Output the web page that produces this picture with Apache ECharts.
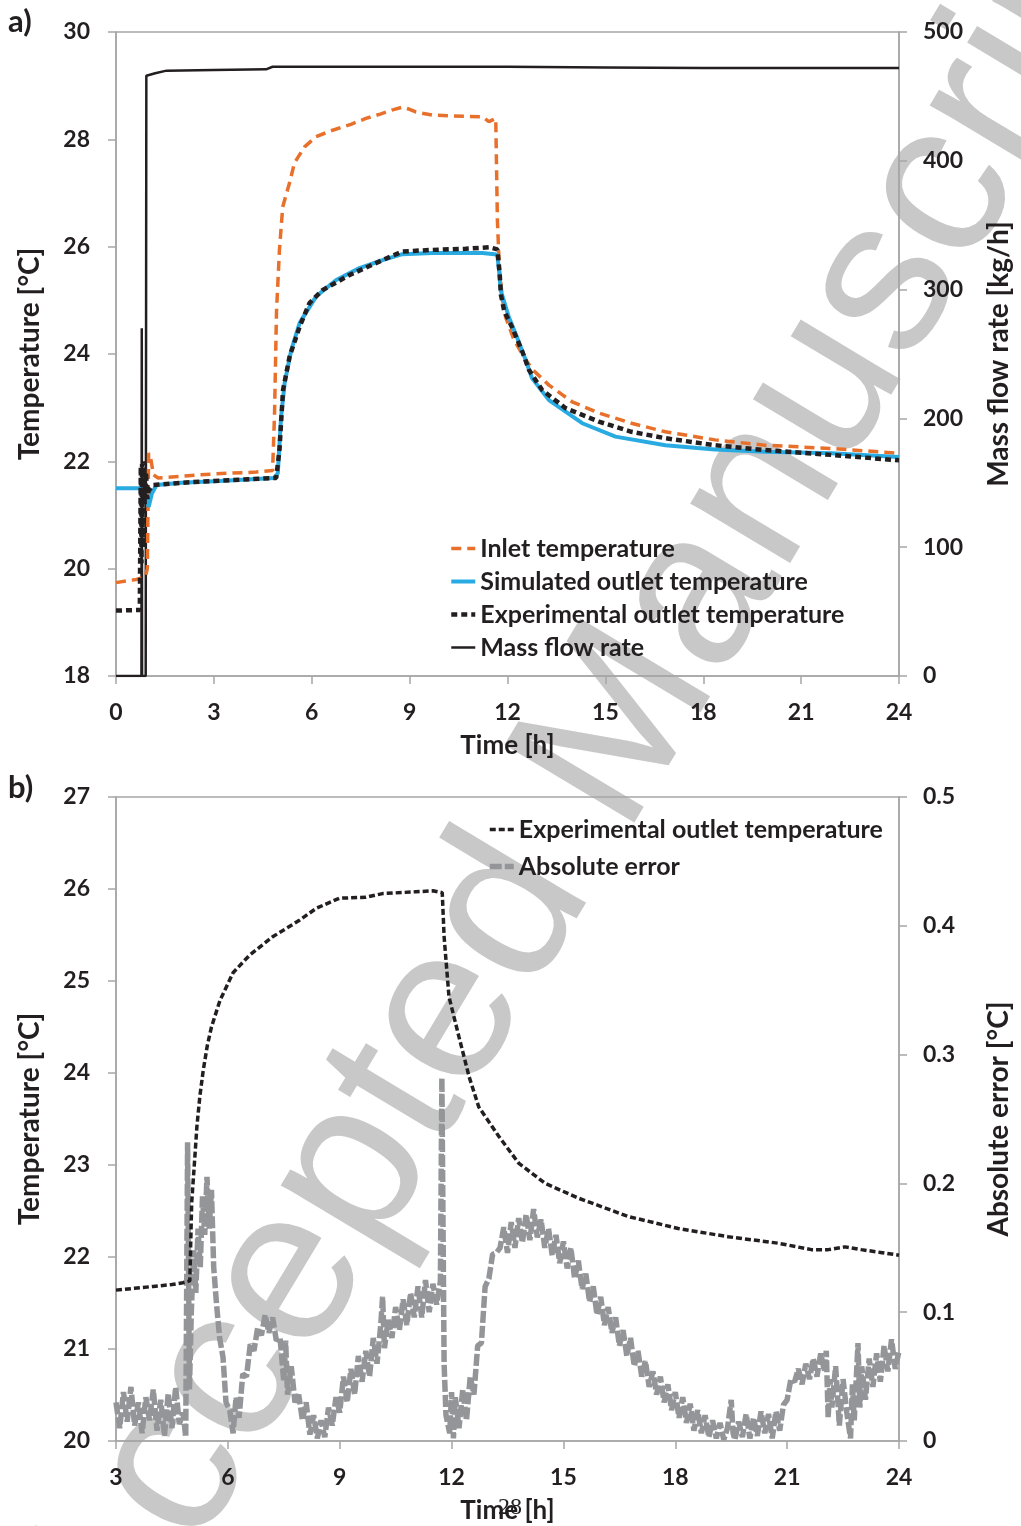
<!DOCTYPE html>
<html>
<head>
<meta charset="utf-8">
<script src="https://cdn.jsdelivr.net/npm/echarts@6/dist/echarts.min.js"></script>
<style>
html,body{margin:0;padding:0;background:#fff;}
#main{width:1021px;height:1526px;}
</style>
</head>
<body>
<div id="main"></div>
<script>
// ---------------- a) data ----------------
// inlet temperature [°C]
var inletT = [0,0.63,0.9,0.96,1.0,1.05,1.15,1.29,2.0,2.57,3.5,4.3,4.8,4.86,4.92,5.01,5.11,5.32,5.47,5.78,6.13,6.64,7.2,7.66,8.1,8.48,8.78,9.0,9.19,9.7,10.2,10.72,11.23,11.43,11.64,11.69,11.75,11.85,11.94,12.2,12.5,12.75,13.27,13.98,14.8,15.8,16.84,18.36,19.89,21.93,24];
var inletV = [19.74,19.80,19.85,20.0,22.15,22.1,21.75,21.69,21.72,21.75,21.78,21.80,21.83,22.9,24.8,25.94,26.74,27.19,27.56,27.86,28.05,28.17,28.28,28.39,28.47,28.55,28.60,28.56,28.51,28.45,28.44,28.43,28.42,28.33,28.39,26.5,25.6,25.0,24.69,24.26,23.95,23.72,23.42,23.11,22.90,22.71,22.55,22.40,22.30,22.24,22.15];

// simulated outlet temperature [°C]
var simT = [0,0.9,0.95,1.0,1.1,1.24,2.0,3.0,4.0,4.85,4.96,5.06,5.17,5.37,5.63,6.13,6.75,7.46,8.17,8.78,9.7,10.5,11.23,11.6,11.69,11.75,11.79,12.04,12.3,12.55,12.75,13.27,14.29,15.31,16.84,18.36,19.89,21.93,24];
var simV = [21.50,21.50,21.3,21.15,21.4,21.56,21.60,21.63,21.66,21.69,21.78,22.83,23.46,24.07,24.58,25.07,25.38,25.60,25.75,25.86,25.88,25.88,25.88,25.86,25.84,25.5,25.19,24.69,24.3,23.9,23.55,23.14,22.71,22.46,22.30,22.22,22.18,22.15,22.08];

// experimental outlet temperature [°C]
var expT = [0,0.73,0.76,0.78,0.8,0.82,0.85,0.88,0.92,0.96,1.0,1.14,2.0,2.57,3.5,4.91,5.01,5.12,5.32,5.63,5.93,6.33,7.15,8.17,8.78,9.7,10.72,11.43,11.69,11.72,11.76,11.8,11.9,12.14,12.45,12.66,13.06,13.78,14.8,15.8,16.84,18.36,19.89,21.93,23.75,24];
var expV = [19.22,19.23,21.9,20.1,21.95,20.4,22.0,21.2,21.8,21.3,21.45,21.56,21.60,21.62,21.65,21.69,22.21,23.33,23.95,24.51,24.95,25.19,25.47,25.75,25.91,25.94,25.96,25.99,25.95,25.98,25.5,25.1,24.8,24.5,24.05,23.70,23.33,22.99,22.74,22.55,22.43,22.30,22.21,22.12,22.03,22.02];

// mass flow rate [kg/h]
var flowT = [0,0.78,0.79,0.8,0.91,0.93,1.2,1.55,3.0,4.6,4.8,6.0,9.0,12.0,15.0,18.0,21.0,24];
var flowV = [0,0,270,0,0,466,468,470,470.5,471,473,473,473,473,472.5,472,472,472];

// ---------------- b) data ----------------
var bExpT = [3,3.5,4,4.5,4.79,4.98,5.03,5.1,5.17,5.25,5.34,5.45,5.56,5.79,6.14,6.58,7.2,7.92,8.37,8.99,9.7,10.15,11.04,11.5,11.75,11.8,11.93,12.2,12.47,12.73,13.27,13.8,14.51,15.4,16.74,18.08,19.42,20.76,21.65,22.1,22.55,22.99,23.5,24];
var bExpV = [21.64,21.66,21.68,21.70,21.72,21.74,22.59,23.0,23.42,23.75,24.03,24.3,24.50,24.79,25.09,25.28,25.48,25.66,25.79,25.90,25.91,25.95,25.97,25.98,25.96,25.48,24.83,24.39,23.96,23.63,23.31,23.02,22.80,22.64,22.44,22.31,22.22,22.15,22.08,22.08,22.11,22.08,22.05,22.02];

// absolute error [°C]
var errT = [3.0,3.1,3.2,3.3,3.4,3.5,3.6,3.7,3.8,3.9,4.0,4.1,4.2,4.3,4.4,4.5,4.6,4.7,4.8,4.87,4.92,4.97,5.02,5.08,5.14,5.2,5.26,5.32,5.38,5.44,5.5,5.56,5.62,5.7,5.78,5.87,5.95,6.05,6.14,6.22,6.3,6.4,6.5,6.6,6.7,6.8,6.9,7.0,7.1,7.2,7.3,7.4,7.5,7.55,7.6,7.7,7.8,7.9,8.0,8.1,8.2,8.3,8.4,8.5,8.6,8.7,8.8,8.9,9.0,9.1,9.2,9.3,9.4,9.5,9.6,9.7,9.8,9.9,10.0,10.1,10.15,10.2,10.3,10.4,10.5,10.6,10.7,10.8,10.9,11.0,11.1,11.2,11.3,11.4,11.5,11.6,11.7,11.74,11.8,11.85,11.95,12.0,12.05,12.1,12.2,12.3,12.4,12.5,12.6,12.7,12.8,12.9,13.0,13.1,13.2,13.3,13.4,13.5,13.6,13.7,13.8,13.9,14.0,14.1,14.2,14.3,14.4,14.5,14.6,14.7,14.8,14.9,15.0,15.1,15.2,15.3,15.4,15.5,15.6,15.7,15.8,15.9,16.0,16.1,16.2,16.3,16.4,16.5,16.6,16.7,16.8,16.9,17.0,17.1,17.2,17.3,17.4,17.5,17.6,17.7,17.8,17.9,18.0,18.1,18.2,18.3,18.4,18.5,18.6,18.7,18.8,18.9,19.0,19.1,19.2,19.3,19.4,19.5,19.55,19.6,19.7,19.8,19.9,20.0,20.1,20.2,20.3,20.4,20.5,20.6,20.7,20.8,20.9,21.0,21.1,21.2,21.3,21.4,21.5,21.6,21.7,21.8,21.9,22.0,22.05,22.1,22.15,22.2,22.3,22.35,22.4,22.5,22.6,22.7,22.75,22.8,22.9,22.95,23.0,23.1,23.2,23.3,23.4,23.5,23.6,23.7,23.8,23.9,24.0];
var errV = [0.030,0.010,0.038,0.015,0.042,0.012,0.030,0.006,0.034,0.016,0.040,0.008,0.032,0.004,0.037,0.010,0.042,0.013,0.022,0.003,0.232,0.040,0.100,0.148,0.115,0.165,0.135,0.190,0.160,0.205,0.165,0.195,0.135,0.105,0.080,0.065,0.030,0.024,0.006,0.034,0.018,0.052,0.050,0.075,0.070,0.088,0.082,0.098,0.084,0.096,0.078,0.080,0.046,0.078,0.036,0.058,0.030,0.036,0.016,0.030,0.005,0.020,0.002,0.016,0.003,0.026,0.012,0.034,0.022,0.050,0.030,0.056,0.036,0.066,0.046,0.070,0.050,0.080,0.060,0.090,0.112,0.072,0.094,0.080,0.104,0.086,0.110,0.090,0.115,0.096,0.120,0.096,0.125,0.100,0.122,0.106,0.124,0.282,0.060,0.020,0.006,0.038,0.002,0.034,0.010,0.040,0.016,0.050,0.036,0.074,0.076,0.120,0.126,0.145,0.146,0.150,0.166,0.146,0.170,0.150,0.173,0.154,0.176,0.156,0.180,0.158,0.172,0.150,0.165,0.144,0.160,0.138,0.155,0.134,0.150,0.126,0.140,0.118,0.130,0.108,0.120,0.098,0.112,0.090,0.104,0.084,0.096,0.074,0.086,0.066,0.080,0.058,0.070,0.050,0.062,0.042,0.054,0.036,0.050,0.030,0.044,0.024,0.038,0.018,0.034,0.014,0.029,0.008,0.024,0.006,0.020,0.003,0.016,0.002,0.014,0.001,0.010,0.032,0.006,0.001,0.015,0.003,0.021,0.002,0.018,0.004,0.023,0.006,0.021,0.002,0.023,0.008,0.028,0.032,0.048,0.046,0.056,0.044,0.060,0.048,0.064,0.050,0.068,0.054,0.070,0.018,0.048,0.026,0.058,0.036,0.012,0.048,0.022,0.002,0.044,0.016,0.076,0.026,0.058,0.032,0.064,0.042,0.068,0.046,0.074,0.054,0.079,0.056,0.070];

// ---------------- helpers ----------------
function pairs(t, v){
    var out = [];
    for(var i = 0; i < t.length; i++){
        out.push([t[i], v[i]]);
    }
    return out;
}

var txt = '#231f20';
var axisGray = '#a6a6a6';
var fontF = 'Lato';

function xAx(idx, min){
    return {
        type:'value', gridIndex:idx, min:min, max:24, interval:3,
        name:'Time [h]', nameLocation:'middle', nameGap:57,
        nameTextStyle:{color:txt, fontFamily:fontF, fontWeight:'bold', fontSize:26},
        axisLine:{lineStyle:{color:axisGray, width:1.5}},
        axisTick:{length:8, lineStyle:{color:axisGray, width:1.5}},
        axisLabel:{color:txt, fontFamily:fontF, fontWeight:'bold', fontSize:23, margin:25},
        splitLine:{show:false}
    };
}

function yAx(idx, pos, min, max, step, name, gap){
    return {
        type:'value', gridIndex:idx, position:pos, min:min, max:max, interval:step,
        name:name, nameLocation:'middle', nameGap:gap, nameRotate:90,
        nameTextStyle:{color:txt, fontFamily:fontF, fontWeight:'bold', fontSize:28},
        axisLine:{show:true, lineStyle:{color:axisGray, width:1.5}},
        axisTick:{show:true, length:8, lineStyle:{color:axisGray, width:1.5}},
        axisLabel:{color:txt, fontFamily:fontF, fontWeight:'bold', fontSize:23, margin:pos == 'left' ? 26 : 24},
        splitLine:{show:false}
    };
}

function legendBox(top, left, gap, names){
    return {
        orient:'vertical', top:top, left:left, padding:0, itemGap:gap,
        itemWidth:24, itemHeight:14, data:names,
        itemStyle:{opacity:0},
        lineStyle:{width:'inherit'},
        textStyle:{color:txt, fontFamily:fontF, fontWeight:'bold', fontSize:25},
        selectedMode:false
    };
}

var chart = echarts.init(document.getElementById('main'));

var option = {
    backgroundColor:'#fff',
    animation:false,
    graphic:[
        // watermark
        {type:'text', x:598, y:765, rotation:59 * Math.PI / 180, z:-100, silent:true,
            style:{text:'Accepted Manuscript', font:'220px "Liberation Sans"', fill:'#c8c8c8', align:'center', verticalAlign:'middle'}},
        {type:'text', left:8, top:6, style:{text:'a)', font:'bold 31px Lato', fill:txt}},
        {type:'text', left:8, top:772, style:{text:'b)', font:'bold 31px Lato', fill:txt}},
        {type:'text', left:498, top:1496, style:{text:'28', font:'24px "Liberation Serif"', fill:txt}}
    ],
    grid:[
        {left:116, right:120, top:32, height:644, show:true, borderColor:axisGray, borderWidth:1.5, backgroundColor:'transparent'},
        {left:116, right:120, top:797, height:644, show:true, borderColor:axisGray, borderWidth:1.5, backgroundColor:'transparent'}
    ],
    legend:[
        legendBox(536, 449, 8, ['Inlet temperature','Simulated outlet temperature','Experimental outlet temperature','Mass flow rate']),
        legendBox(817, 487, 12, ['Experimental outlet temperature ','Absolute error'])
    ],
    xAxis:[xAx(0, 0), xAx(1, 3)],
    yAxis:[
        yAx(0, 'left', 18, 30, 2, 'Temperature [°C]', 72),
        yAx(0, 'right', 0, 500, 100, 'Mass flow rate [kg/h]', 86),
        yAx(1, 'left', 20, 27, 1, 'Temperature [°C]', 72),
        yAx(1, 'right', 0, 0.5, 0.1, 'Absolute error [°C]', 86)
    ],
    series:[
        {name:'Mass flow rate', type:'line', xAxisIndex:0, yAxisIndex:1, data:pairs(flowT, flowV),
            showSymbol:false, symbol:'none', lineStyle:{color:txt, width:2.5}, itemStyle:{color:txt}, z:3},
        {name:'Inlet temperature', type:'line', xAxisIndex:0, yAxisIndex:0, data:pairs(inletT, inletV),
            showSymbol:false, symbol:'none', lineStyle:{color:'#e8702a', width:3.5, type:[10,6]}, itemStyle:{color:'#e8702a'}, z:4},
        {name:'Simulated outlet temperature', type:'line', xAxisIndex:0, yAxisIndex:0, data:pairs(simT, simV),
            showSymbol:false, symbol:'none', lineStyle:{color:'#29abe2', width:4}, itemStyle:{color:'#29abe2'}, z:5},
        {name:'Experimental outlet temperature', type:'line', xAxisIndex:0, yAxisIndex:0, data:pairs(expT, expV),
            showSymbol:false, symbol:'none', lineStyle:{color:txt, width:4.5, type:[6,4]}, itemStyle:{color:txt}, z:6},

        {name:'Experimental outlet temperature ', type:'line', xAxisIndex:1, yAxisIndex:2, data:pairs(bExpT, bExpV),
            showSymbol:false, symbol:'none', lineStyle:{color:txt, width:3.5, type:[6,3]}, itemStyle:{color:txt}, z:6},
        {name:'Absolute error', type:'line', xAxisIndex:1, yAxisIndex:3, data:pairs(errT, errV),
            showSymbol:false, symbol:'none', lineStyle:{color:'#939598', width:5.5, type:[12,3]}, itemStyle:{color:'#939598'}, z:5}
    ]
};

chart.setOption(option);
</script>
</body>
</html>
